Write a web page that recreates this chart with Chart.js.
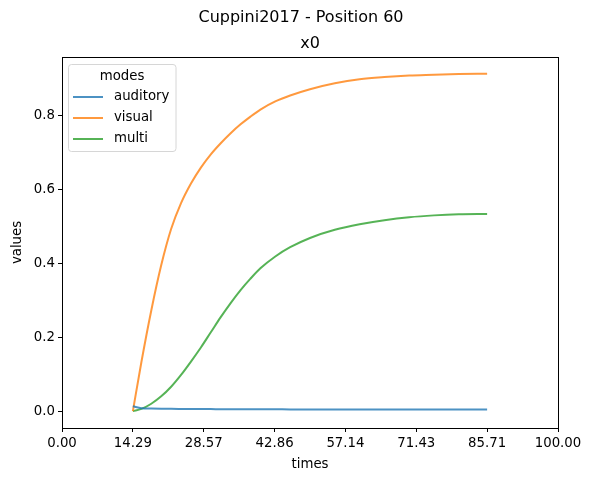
<!DOCTYPE html>
<html>
<head>
<meta charset="utf-8">
<script src="https://cdn.jsdelivr.net/npm/chart.js@4.4.0/dist/chart.umd.min.js"></script>
<style>
  html, body { margin: 0; padding: 0; background: #fff; }
  #wrap { width: 591px; height: 480px; }
</style>
</head>
<body>
<div id="wrap"><canvas id="chart" width="591" height="480"></canvas></div>
<script>
// --- data ---
const times = [14.29, 16, 18, 20, 22, 24, 26, 28, 30, 32, 34, 36, 38, 40, 43, 46, 50, 55, 60, 65, 70, 75, 80, 85.71];
const auditory = [0.013, 0.008, 0.007, 0.0065, 0.0062, 0.006, 0.0058, 0.0056, 0.0055, 0.0053, 0.0052, 0.0051, 0.005, 0.0049, 0.0048, 0.0047, 0.0046, 0.0046, 0.0045, 0.0045, 0.0045, 0.0045, 0.0045, 0.0045];
const visual = [0, 0.132, 0.272, 0.394, 0.492, 0.562, 0.615, 0.658, 0.694, 0.724, 0.751, 0.775, 0.796, 0.815, 0.837, 0.853, 0.870, 0.886, 0.897, 0.903, 0.907, 0.909, 0.911, 0.912];
const multi = [0, 0.006, 0.020, 0.040, 0.066, 0.098, 0.134, 0.172, 0.213, 0.254, 0.292, 0.327, 0.358, 0.386, 0.418, 0.443, 0.468, 0.490, 0.505, 0.516, 0.524, 0.529, 0.532, 0.533];

const xTicks = [0, 14.29, 28.57, 42.86, 57.14, 71.43, 85.71, 100];
const yTicks = [0, 0.2, 0.4, 0.6, 0.8];

const seriesNames = ['auditory', 'visual', 'multi'];
const seriesColors = ['rgba(31,119,180,0.8)', 'rgba(255,127,14,0.8)', 'rgba(44,160,44,0.8)'];

const FONT = '"DejaVu Sans", sans-serif';

function toPoints(values) {
    return times.map((t, i) => ({ x: t, y: values[i] }));
}

// titles, frame and the boxed legend, drawn the way matplotlib lays them out
const decorPlugin = {
    id: 'decor',
    afterDraw(chart) {
        const ctx = chart.ctx;
        const area = chart.chartArea;
        ctx.save();

        // frame
        ctx.strokeStyle = '#000';
        ctx.lineWidth = 1;
        ctx.strokeRect(Math.round(area.left) + 0.5, Math.round(area.top) + 0.5,
            Math.round(area.right - area.left), Math.round(area.bottom - area.top));

        // titles
        ctx.fillStyle = '#000';
        ctx.textAlign = 'center';
        ctx.textBaseline = 'middle';
        ctx.font = '16px ' + FONT;
        ctx.fillText('Cuppini2017 - Position 60', 301, 18);
        ctx.fillText('x0', (area.left + area.right) / 2, 44);

        // legend
        const bx = 68.5, by = 64.5, bw = 107.5, bh = 87;
        ctx.fillStyle = 'rgba(255,255,255,0.8)';
        ctx.strokeStyle = '#d6d6d6';
        ctx.beginPath();
        ctx.roundRect(bx, by, bw, bh, 3);
        ctx.fill();
        ctx.stroke();

        ctx.fillStyle = '#000';
        ctx.font = '13.3px ' + FONT;
        ctx.textAlign = 'center';
        ctx.fillText('modes', 122, 77);

        ctx.textAlign = 'left';
        chart.data.datasets.forEach((ds, i) => {
            const y = 97 + i * 21;
            ctx.strokeStyle = ds.borderColor;
            ctx.lineWidth = 2;
            ctx.beginPath();
            ctx.moveTo(73, y);
            ctx.lineTo(103, y);
            ctx.stroke();
            ctx.fillStyle = '#000';
            ctx.fillText(ds.label, 114, y);
        });

        ctx.restore();
    }
};

const ctx = document.getElementById('chart').getContext('2d');
const chart = new Chart(ctx, {
    type: 'line',
    data: {
        datasets: [
            { label: seriesNames[0], data: toPoints(auditory), borderColor: seriesColors[0] },
            { label: seriesNames[1], data: toPoints(visual), borderColor: seriesColors[1] },
            { label: seriesNames[2], data: toPoints(multi), borderColor: seriesColors[2] }
        ].map(ds => Object.assign(ds, {
            borderWidth: 2,
            pointRadius: 0,
            fill: false,
            cubicInterpolationMode: 'monotone'
        }))
    },
    options: {
        responsive: false,
        animation: false,
        devicePixelRatio: 1,
        layout: { padding: { top: 57, right: 33, bottom: 0, left: 0 } },
        plugins: {
            legend: { display: false },
            title: { display: false },
            tooltip: { enabled: false }
        },
        scales: {
            x: {
                type: 'linear',
                min: 0,
                max: 100,
                afterBuildTicks(scale) { scale.ticks = xTicks.map(v => ({ value: v })); },
                afterFit(scale) { scale.height = 52; },
                ticks: {
                    color: '#000',
                    font: { family: FONT, size: 13.3 },
                    padding: 4,
                    maxRotation: 0,
                    autoSkip: false,
                    callback: v => v.toFixed(2)
                },
                grid: { drawOnChartArea: false, drawTicks: true, tickLength: 4, color: '#000' },
                border: { display: true, color: '#000' },
                title: { display: true, text: 'times', color: '#000', font: { family: FONT, size: 13.3 }, padding: { top: 2, bottom: 7 } }
            },
            y: {
                type: 'linear',
                min: -0.0456,
                max: 0.957,
                afterBuildTicks(scale) { scale.ticks = yTicks.map(v => ({ value: v })); },
                afterFit(scale) { scale.width = 62; },
                ticks: {
                    color: '#000',
                    font: { family: FONT, size: 13.3 },
                    padding: 3,
                    callback: v => v.toFixed(1)
                },
                grid: { drawOnChartArea: false, drawTicks: true, tickLength: 4, color: '#000' },
                border: { display: true, color: '#000' },
                title: { display: true, text: 'values', color: '#000', font: { family: FONT, size: 13.3 }, padding: { top: 10, bottom: 0 } }
            }
        }
    },
    plugins: [decorPlugin]
});
</script>
</body>
</html>
